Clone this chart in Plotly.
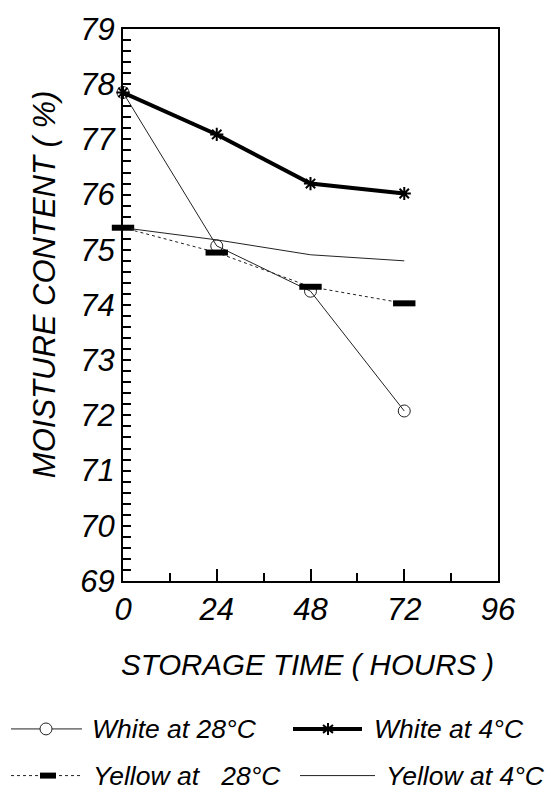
import plotly.graph_objects as go

# Storage time (hours) and moisture content (%) for each sample
hours = [0, 24, 48, 72]
white_28 = [77.85, 75.07, 74.25, 72.08]
white_4 = [77.85, 77.09, 76.2, 76.02]
yellow_28 = [75.4, 74.95, 74.33, 74.03]
yellow_4 = [75.4, 75.18, 74.91, 74.8]

x_ticks = [0, 24, 48, 72, 96]
y_ticks = [69, 70, 71, 72, 73, 74, 75, 76, 77, 78, 79]

FONT = "Liberation Sans, Arial, sans-serif"
INK = "#000000"

W, H = 545, 795
L, R, T, B = 123, 47, 25, 214
PW, PH = W - L - R, H - T - B

series = [
    dict(name="White at 28°C", y=white_28,
         line=dict(color="#222222", width=1, dash="solid"),
         marker=dict(symbol="circle-open", size=12, color="#222222", line=dict(width=1)),
         mode="lines+markers", key="circle"),
    dict(name="White at 4°C", y=white_4,
         line=dict(color=INK, width=4, dash="solid"),
         marker=dict(symbol="asterisk-open", size=11, color=INK, line=dict(width=2, color=INK)),
         mode="lines+markers", key="asterisk"),
    dict(name="Yellow at   28°C", y=yellow_28,
         line=dict(color="#222222", width=1, dash="dot"),
         marker=dict(symbol="line-ew-open", size=16, color=INK, line=dict(width=6, color=INK)),
         mode="lines+markers", key="bar"),
    dict(name="Yellow at 4°C", y=yellow_4,
         line=dict(color="#222222", width=1, dash="solid"),
         marker=dict(size=1),
         mode="lines", key=None),
]

fig = go.Figure()
for s in series:
    fig.add_trace(go.Scatter(x=hours, y=s["y"], mode=s["mode"], name=s["name"],
                             line=s["line"], marker=s["marker"], showlegend=False,
                             cliponaxis=False))


def px_x(px):
    return (px - L) / PW


def px_y(py):
    return (H - B - py) / PH


def seg(x0, y0, x1, y1, width, color=INK, dash="solid"):
    fig.add_shape(type="line", xref="paper", yref="paper",
                  x0=px_x(x0), y0=px_y(y0), x1=px_x(x1), y1=px_y(y1),
                  line=dict(color=color, width=width, dash=dash))


def key_symbol(kind, cx, cy):
    if kind == "circle":
        fig.add_shape(type="circle", xref="paper", yref="paper",
                      x0=px_x(cx - 6), x1=px_x(cx + 6), y0=px_y(cy + 6), y1=px_y(cy - 6),
                      line=dict(color="#222222", width=1), fillcolor="white")
    elif kind == "bar":
        fig.add_shape(type="rect", xref="paper", yref="paper",
                      x0=px_x(cx - 8), x1=px_x(cx + 8), y0=px_y(cy + 3), y1=px_y(cy - 3),
                      line=dict(width=0), fillcolor=INK)
    elif kind == "asterisk":
        seg(cx, cy - 6, cx, cy + 6, 2)
        seg(cx - 5, cy - 4, cx + 5, cy + 4, 2)
        seg(cx - 5, cy + 4, cx + 5, cy - 4, 2)


# Two-column key below the chart: (line span, marker x, row y, label x)
key_pos = [
    ((11, 82), 46, 730, 90),
    ((293, 362), 328, 730, 372),
    ((11, 82), 48, 777, 91),
    ((300, 375), None, 777, 384),
]
for s, (xs, mx, yy, tx) in zip(series, key_pos):
    seg(xs[0], yy, xs[1], yy, s["line"]["width"], s["line"]["color"], s["line"]["dash"])
    if mx is not None:
        key_symbol(s["key"], mx, yy)
    fig.add_annotation(x=px_x(tx), y=px_y(yy), xref="paper", yref="paper", text=s["name"],
                       showarrow=False, xanchor="left", yanchor="middle",
                       font=dict(family=FONT, size=26.5, color=INK, style="italic"))

# Axis titles
fig.add_annotation(x=px_x(307), y=px_y(665), xref="paper", yref="paper",
                   text="STORAGE TIME ( HOURS )", showarrow=False,
                   xanchor="center", yanchor="middle",
                   font=dict(family=FONT, size=29.5, color=INK, style="italic"))
fig.add_annotation(x=px_x(44), y=px_y(282), xref="paper", yref="paper",
                   text="MOISTURE CONTENT ( %)", showarrow=False, textangle=-90,
                   xanchor="center", yanchor="middle",
                   font=dict(family=FONT, size=31, color=INK, style="italic"))

fig.update_layout(
    width=W, height=H,
    margin=dict(l=L, r=R, t=T, b=B),
    paper_bgcolor="white", plot_bgcolor="white",
    showlegend=False,
    xaxis=dict(
        range=[0, 96], tickvals=x_ticks, ticktext=[str(v) for v in x_ticks],
        showgrid=False, zeroline=False,
        showline=True, linecolor=INK, linewidth=2, mirror=True,
        ticks="inside", ticklen=12, tickwidth=1.5, tickcolor=INK,
        minor=dict(dtick=12, tick0=0, ticks="inside", ticklen=8, tickwidth=1.5, tickcolor=INK),
        tickfont=dict(family=FONT, size=31, color=INK, style="italic"),
    ),
    yaxis=dict(
        range=[69, 79], tickvals=y_ticks, ticktext=[str(v) for v in y_ticks],
        showgrid=False, zeroline=False,
        showline=True, linecolor=INK, linewidth=2, mirror=True,
        ticks="inside", ticklen=8, tickwidth=1.5, tickcolor=INK,
        minor=dict(dtick=0.2, tick0=69, ticks="inside", ticklen=8, tickwidth=1.5, tickcolor=INK),
        tickfont=dict(family=FONT, size=31, color=INK, style="italic"),
    ),
)

fig.write_html("out.html")
